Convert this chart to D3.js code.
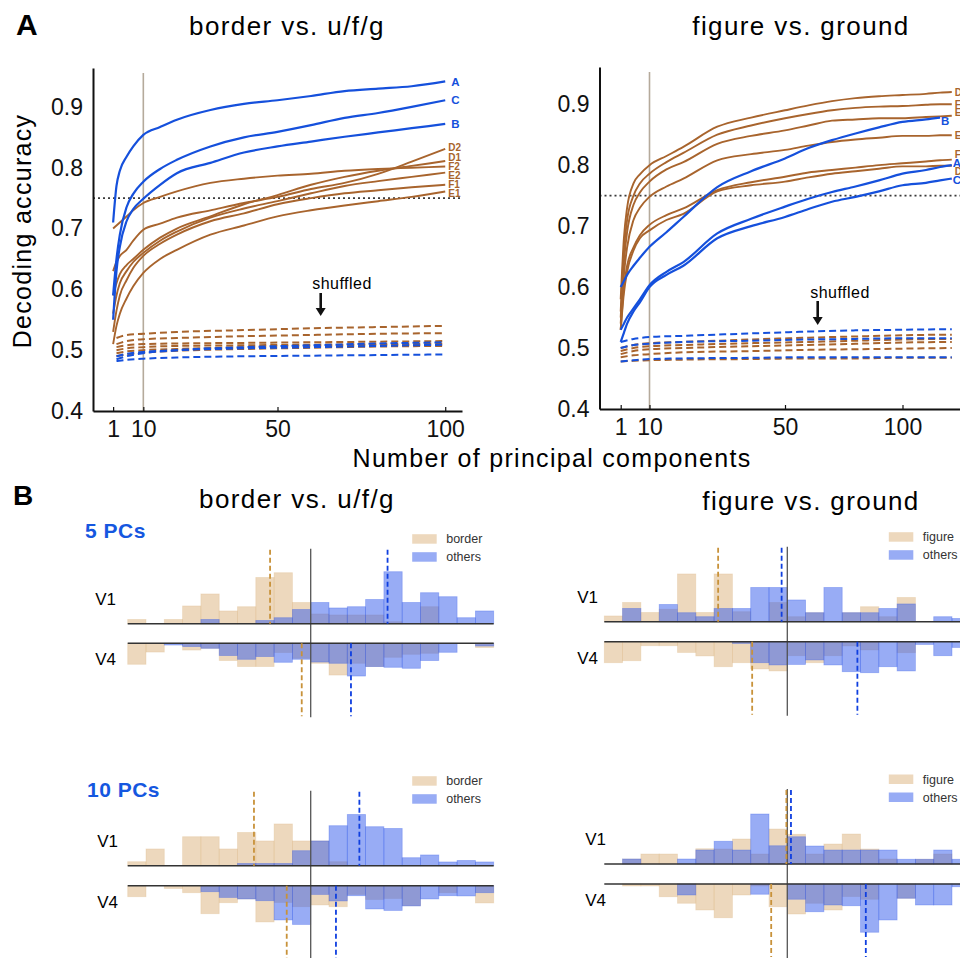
<!DOCTYPE html>
<html>
<head>
<meta charset="utf-8">
<script src="https://cdn.jsdelivr.net/npm/d3@7"></script>
<style>
  body { margin: 0; background: #fff; }
  svg { display: block; }
</style>
</head>
<body>
<script>
// ================= Panel A data: decoding accuracy vs. number of PCs =================
// border vs. u/f/g
const pcsBorder = [1, 2, 3, 5, 7, 10, 15, 20, 30, 40, 50, 60, 70, 80, 90, 100];
const borderNames = ["D2", "D1", "F2", "E2", "F1", "E1", "A", "C", "B"];
const borderKinds = ["brown", "brown", "brown", "brown", "brown", "brown", "blue", "blue", "blue"];
const borderAcc = [
  [0.63, 0.645, 0.655, 0.665, 0.68, 0.698, 0.708, 0.718, 0.73, 0.742, 0.752, 0.765, 0.775, 0.79, 0.81, 0.831],
  [0.59, 0.61, 0.625, 0.64, 0.65, 0.665, 0.685, 0.70, 0.72, 0.74, 0.755, 0.772, 0.785, 0.795, 0.803, 0.811],
  [0.70, 0.705, 0.71, 0.72, 0.73, 0.742, 0.752, 0.761, 0.775, 0.782, 0.787, 0.79, 0.795, 0.798, 0.80, 0.802],
  [0.56, 0.59, 0.61, 0.63, 0.645, 0.66, 0.68, 0.695, 0.718, 0.733, 0.745, 0.758, 0.77, 0.778, 0.785, 0.792],
  [0.53, 0.565, 0.59, 0.615, 0.635, 0.655, 0.675, 0.69, 0.712, 0.725, 0.74, 0.75, 0.758, 0.763, 0.768, 0.772],
  [0.51, 0.54, 0.56, 0.585, 0.605, 0.627, 0.65, 0.665, 0.69, 0.705, 0.72, 0.73, 0.738, 0.745, 0.752, 0.761],
  [0.71, 0.77, 0.795, 0.818, 0.835, 0.854, 0.867, 0.879, 0.895, 0.905, 0.911, 0.918, 0.926, 0.93, 0.934, 0.942],
  [0.59, 0.65, 0.69, 0.735, 0.757, 0.777, 0.798, 0.813, 0.835, 0.85, 0.859, 0.87, 0.882, 0.89, 0.90, 0.911],
  [0.55, 0.63, 0.67, 0.712, 0.732, 0.749, 0.772, 0.791, 0.808, 0.825, 0.835, 0.843, 0.851, 0.858, 0.865, 0.872]
];
const pcsShufBorder = [2, 5, 10, 20, 40, 60, 80, 100];
const shufBorderBrown = [
  [0.52, 0.525, 0.527, 0.53, 0.533, 0.536, 0.538, 0.54],
  [0.51, 0.515, 0.518, 0.52, 0.523, 0.525, 0.527, 0.528],
  [0.505, 0.508, 0.51, 0.511, 0.512, 0.513, 0.514, 0.515],
  [0.50, 0.503, 0.505, 0.507, 0.508, 0.509, 0.51, 0.511],
  [0.495, 0.498, 0.50, 0.502, 0.505, 0.507, 0.508, 0.509],
  [0.49, 0.493, 0.496, 0.499, 0.502, 0.504, 0.506, 0.507]
];
const shufBorderBlue = [
  [0.485, 0.49, 0.495, 0.50, 0.505, 0.508, 0.511, 0.513],
  [0.482, 0.484, 0.486, 0.488, 0.49, 0.491, 0.492, 0.493],
  [0.49, 0.494, 0.497, 0.50, 0.503, 0.505, 0.507, 0.509]
];

// figure vs. ground
const pcsFigure = [1, 2, 3, 5, 7, 10, 15, 20, 30, 40, 50, 60, 70, 80, 90, 100, 110, 116, 121];
const figureNames = ["D1", "F1", "E1", "E2", "F2", "D2", "B", "A", "C"];
const figureKinds = ["brown", "brown", "brown", "brown", "brown", "brown", "blue", "blue", "blue"];
const figureAcc = [
  [0.58, 0.68, 0.73, 0.77, 0.785, 0.80, 0.815, 0.83, 0.863, 0.878, 0.89, 0.898, 0.905, 0.91, 0.913, 0.915, 0.917, 0.919, 0.92],
  [0.56, 0.66, 0.71, 0.75, 0.77, 0.786, 0.805, 0.82, 0.85, 0.865, 0.877, 0.884, 0.89, 0.894, 0.896, 0.897, 0.899, 0.90, 0.90],
  [0.55, 0.64, 0.69, 0.735, 0.755, 0.773, 0.793, 0.805, 0.835, 0.848, 0.857, 0.865, 0.873, 0.875, 0.877, 0.877, 0.879, 0.88, 0.881],
  [0.54, 0.62, 0.665, 0.71, 0.73, 0.748, 0.765, 0.778, 0.808, 0.818, 0.825, 0.832, 0.838, 0.842, 0.845, 0.848, 0.848, 0.849, 0.849],
  [0.53, 0.60, 0.635, 0.665, 0.685, 0.702, 0.718, 0.729, 0.759, 0.772, 0.781, 0.788, 0.792, 0.796, 0.80, 0.803, 0.806, 0.808, 0.809],
  [0.53, 0.59, 0.625, 0.66, 0.68, 0.693, 0.71, 0.72, 0.757, 0.767, 0.773, 0.78, 0.786, 0.79, 0.794, 0.798, 0.798, 0.799, 0.799],
  [0.60, 0.61, 0.62, 0.635, 0.648, 0.666, 0.69, 0.715, 0.764, 0.79, 0.811, 0.828, 0.841, 0.852, 0.862, 0.871, 0.875, 0.878, null],
  [0.53, 0.54, 0.55, 0.565, 0.58, 0.603, 0.625, 0.641, 0.688, 0.712, 0.732, 0.745, 0.756, 0.765, 0.775, 0.786, 0.792, 0.797, 0.80],
  [0.51, 0.525, 0.54, 0.56, 0.575, 0.60, 0.62, 0.635, 0.68, 0.70, 0.715, 0.728, 0.74, 0.748, 0.757, 0.767, 0.771, 0.775, 0.778]
];
const pcsShufFigure = [1, 5, 10, 20, 40, 60, 80, 100, 121];
const shufFigureBrown = [
  [0.50, 0.505, 0.508, 0.51, 0.514, 0.517, 0.519, 0.521, 0.522],
  [0.495, 0.50, 0.503, 0.505, 0.508, 0.51, 0.512, 0.514, 0.515],
  [0.49, 0.495, 0.498, 0.50, 0.503, 0.505, 0.507, 0.509, 0.51],
  [0.485, 0.488, 0.49, 0.493, 0.495, 0.497, 0.498, 0.499, 0.50],
  [0.478, 0.479, 0.48, 0.481, 0.482, 0.483, 0.483, 0.484, 0.484]
];
const shufFigureBlue = [
  [0.51, 0.515, 0.518, 0.52, 0.524, 0.527, 0.529, 0.53, 0.531],
  [0.50, 0.505, 0.507, 0.51, 0.512, 0.514, 0.515, 0.516, 0.516],
  [0.478, 0.48, 0.482, 0.483, 0.484, 0.485, 0.485, 0.485, 0.485]
];

const accTicks = [0.4, 0.5, 0.6, 0.7, 0.8, 0.9];
const pcTicks = [1, 10, 50, 100];
const chanceLevel = 0.75;
const markedPC = 10;

// ================= Panel B data: distributions of decoder outputs =================
const binStarts = [-10, -9, -8, -7, -6, -5, -4, -3, -2, -1, 0, 1, 2, 3, 4, 5, 6, 7, 8, 9];

// 5 PCs, border vs. u/f/g
const v1Border5 = [0.017, 0, 0.017, 0.071, 0.119, 0.051, 0.068, 0.185, 0.204, 0.085, 0.039, 0.035, 0.035, 0.035, 0.008, 0, 0.068, 0, 0, 0];
const v1Others5 = [0, 0, 0, 0, 0.017, 0, 0, 0.013, 0.024, 0.057, 0.085, 0.063, 0.068, 0.097, 0.208, 0.085, 0.124, 0.108, 0.024, 0.051];
const v4Border5 = [0.084, 0.035, 0, 0.027, 0.02, 0.069, 0.093, 0.093, 0.037, 0.06, 0.08, 0.127, 0.08, 0.093, 0.056, 0.044, 0.04, 0, 0, 0.017];
const v4Others5 = [0, 0, 0.007, 0.013, 0.02, 0.049, 0.064, 0.053, 0.076, 0.064, 0.075, 0.08, 0.131, 0.093, 0.096, 0.10, 0.069, 0.036, 0, 0.011];
const means5Border = { v1: [-2.22, 4.2], v4: [-0.49, 2.2] };

// 5 PCs, figure vs. ground
const v1Figure5 = [0.023, 0.077, 0.037, 0.05, 0.191, 0.037, 0.191, 0.04, 0, 0.077, 0.02, 0.036, 0, 0.036, 0.06, 0.02, 0.097, 0, 0, 0];
const v1OthersFG5 = [0, 0.053, 0, 0.069, 0.036, 0.02, 0.053, 0.053, 0.137, 0.137, 0.087, 0.036, 0.137, 0.036, 0.036, 0.053, 0.071, 0, 0.02, 0.013];
const v4Figure5 = [0.084, 0.076, 0.016, 0.016, 0.043, 0.057, 0.10, 0.084, 0.109, 0.117, 0.056, 0.084, 0.056, 0.017, 0.033, 0, 0.044, 0, 0, 0];
const v4OthersFG5 = [0, 0, 0, 0, 0, 0, 0, 0.007, 0.084, 0.093, 0.091, 0.073, 0.093, 0.12, 0.124, 0.10, 0.117, 0.011, 0.056, 0.023];
const means5Figure = { v1: [-3.78, -0.31], v4: [-1.92, 3.83] };

// 10 PCs, border vs. u/f/g
const v1Border10 = [0.016, 0.067, 0, 0.116, 0.116, 0.067, 0.133, 0.099, 0.167, 0.099, 0.099, 0.016, 0, 0, 0, 0, 0, 0, 0, 0];
const v1Others10 = [0, 0, 0, 0, 0, 0, 0.009, 0.009, 0.009, 0.06, 0.099, 0.16, 0.205, 0.156, 0.149, 0.032, 0.043, 0.015, 0.021, 0.015];
const v4Border10 = [0.044, 0, 0.011, 0.028, 0.112, 0.068, 0.053, 0.145, 0.067, 0.084, 0.077, 0.084, 0.035, 0.055, 0.051, 0.08, 0, 0.028, 0, 0.069];
const v4Others10 = [0, 0, 0, 0, 0.024, 0.047, 0.053, 0.06, 0.137, 0.155, 0.035, 0.061, 0.04, 0.093, 0.099, 0.081, 0.053, 0.04, 0.041, 0.028];
const means10Border = { v1: [-3.1, 2.66], v4: [-1.31, 1.38] };

// 10 PCs, figure vs. ground
const v1Figure10 = [0, 0.02, 0.04, 0.04, 0, 0.061, 0.06, 0.10, 0.04, 0.14, 0.119, 0.04, 0.08, 0.12, 0.06, 0.02, 0, 0.019, 0.04, 0];
const v1OthersFG10 = [0, 0.02, 0, 0, 0.02, 0.056, 0.091, 0.056, 0.20, 0.073, 0.109, 0.072, 0.056, 0.056, 0.056, 0.056, 0.019, 0.019, 0.056, 0.019];
const v4Figure10 = [0, 0.008, 0.008, 0.051, 0.077, 0.104, 0.135, 0.044, 0.008, 0.091, 0.12, 0.077, 0.104, 0.05, 0.061, 0, 0.057, 0, 0, 0];
const v4OthersFG10 = [0, 0, 0, 0, 0.044, 0, 0, 0, 0.041, 0, 0.061, 0.111, 0.084, 0.087, 0.193, 0.144, 0.057, 0.084, 0.084, 0.011];
const means10Figure = { v1: [-0.05, 0.2], v4: [-0.88, 4.29] };

// ================= Drawing =================
const FONT = "'Liberation Sans', Arial, Helvetica, sans-serif";
const BLUE = "#1550dc";
const BROWN = "#a8642d";
const kindColor = { blue: BLUE, brown: BROWN };

const svg = d3.select("body").append("svg")
  .attr("width", 960).attr("height", 958)
  .style("font-family", FONT);

// Panel letters
svg.append("text").attr("x", 16).attr("y", 35).attr("font-size", 30).attr("font-weight", "bold").text("A");
svg.append("text").attr("x", 13).attr("y", 505).attr("font-size", 28).attr("font-weight", "bold").text("B");

// ---------- Panel A ----------
const accPanels = [
  {
    title: "border vs. u/f/g", titleX: 287,
    x: d3.scaleLinear().domain([-5, 105]).range([93, 462]),
    y: d3.scaleLinear().domain([0.4, 0.964]).range([411, 68]),
    pcs: pcsBorder, names: borderNames, kinds: borderKinds, acc: borderAcc,
    shufPcs: pcsShufBorder, shufBrown: shufBorderBrown, shufBlue: shufBorderBlue,
    dotEnd: 460, shuffledX: 342, shuffledY: 289, arrowX: 320.7, arrowTop: 293, arrowTip: 316,
    labelGap: 9.2, blueLabelDx: 6, brownLabelDx: 3
  },
  {
    title: "figure vs. ground", titleX: 801,
    x: d3.scaleLinear().domain([-5.6, 1, 10, 50, 100, 124.5]).range([599.5, 620.7, 649.5, 785, 902.5, 960]),
    y: d3.scaleLinear().domain([0.4, 0.961]).range([409, 67]),
    pcs: pcsFigure, names: figureNames, kinds: figureKinds, acc: figureAcc,
    shufPcs: pcsShufFigure, shufBrown: shufFigureBrown, shufBlue: shufFigureBlue,
    dotEnd: 960, shuffledX: 840, shuffledY: 297.5, arrowX: 817.7, arrowTop: 301, arrowTip: 325,
    labelGap: 8.5, blueLabelDx: 1, brownLabelDx: 3
  }
];

accPanels.forEach(p => {
  const g = svg.append("g");
  const [x0] = p.x.range();
  const yBottom = p.y.range()[0];

  // title
  svg.append("text").attr("x", p.titleX).attr("y", 35).attr("text-anchor", "middle")
    .attr("font-size", 26).attr("letter-spacing", "1.4px").text(p.title);

  // marker at PC 10
  g.append("line")
    .attr("x1", p.x(markedPC)).attr("x2", p.x(markedPC))
    .attr("y1", p.y.range()[1] + 5).attr("y2", yBottom)
    .attr("stroke", "#b5aa9b").attr("stroke-width", 1.6);

  // 0.75 reference
  g.append("line")
    .attr("x1", x0).attr("x2", p.dotEnd)
    .attr("y1", p.y(chanceLevel)).attr("y2", p.y(chanceLevel))
    .attr("stroke", "#3a3a3a").attr("stroke-width", 1.8).attr("stroke-dasharray", "2,3");

  // shuffled controls
  const shufLine = pcs => d3.line()
    .x((d, i) => p.x(pcs[i])).y(d => p.y(d)).curve(d3.curveMonotoneX);
  const drawShuf = (rows, color) => rows.forEach(r => {
    g.append("path").attr("d", shufLine(p.shufPcs)(r))
      .attr("fill", "none").attr("stroke", color).attr("stroke-width", 2)
      .attr("stroke-dasharray", "7,4");
  });
  drawShuf(p.shufBrown, BROWN);
  drawShuf(p.shufBlue, BLUE);

  // accuracy curves: brown first, blue on top
  const line = d3.line()
    .defined(d => d[1] != null)
    .x(d => p.x(d[0])).y(d => p.y(d[1]))
    .curve(d3.curveMonotoneX);
  const order = d3.range(p.acc.length).sort((a, b) => (p.kinds[a] === "blue") - (p.kinds[b] === "blue"));
  order.forEach(i => {
    const pts = p.pcs.map((pc, k) => [pc, p.acc[i][k]]);
    g.append("path").attr("d", line(pts))
      .attr("fill", "none").attr("stroke", kindColor[p.kinds[i]])
      .attr("stroke-width", p.kinds[i] === "blue" ? 2.2 : 1.9);
  });

  // end labels, spread apart so they do not collide
  const labels = p.names.map((name, i) => {
    let k = p.acc[i].length - 1;
    while (p.acc[i][k] == null) k--;
    return { name, kind: p.kinds[i], ex: p.x(p.pcs[k]), y: p.y(p.acc[i][k]) };
  }).sort((a, b) => a.y - b.y);
  for (let it = 0; it < 80; it++) {
    for (let i = 1; i < labels.length; i++) {
      const d = labels[i].y - labels[i - 1].y;
      if (d < p.labelGap) {
        const s = (p.labelGap - d) / 2;
        labels[i - 1].y -= s; labels[i].y += s;
      }
    }
  }
  labels.forEach(l => {
    g.append("text")
      .attr("x", l.ex + (l.kind === "blue" ? p.blueLabelDx : p.brownLabelDx))
      .attr("y", l.y).attr("dy", "0.36em")
      .attr("font-size", l.kind === "blue" ? 11.5 : 10)
      .attr("font-weight", "bold")
      .attr("fill", kindColor[l.kind]).text(l.name);
  });

  // axes
  const ax = g.append("g").attr("transform", `translate(0,${yBottom})`)
    .call(d3.axisBottom(p.x).tickValues(pcTicks).tickFormat(d3.format("d"))
      .tickSize(-4).tickSizeOuter(0).tickPadding(10));
  const ay = g.append("g").attr("transform", `translate(${x0},0)`)
    .call(d3.axisLeft(p.y).tickValues(accTicks).tickFormat(d3.format(".1f"))
      .tickSize(0).tickSizeOuter(0).tickPadding(10));
  [ax, ay].forEach(a => {
    a.select(".domain").attr("stroke", "#111").attr("stroke-width", 2);
    a.selectAll(".tick line").attr("stroke", "#111").attr("stroke-width", 1.2);
    a.selectAll("text").attr("font-size", 23).attr("font-family", FONT).attr("fill", "#111");
  });

  // "shuffled" marker
  g.append("text").attr("x", p.shuffledX).attr("y", p.shuffledY).attr("text-anchor", "middle")
    .attr("font-size", 16).attr("letter-spacing", "0.5px").text("shuffled");
  g.append("line").attr("x1", p.arrowX).attr("x2", p.arrowX)
    .attr("y1", p.arrowTop).attr("y2", p.arrowTip - 6)
    .attr("stroke", "#111").attr("stroke-width", 2.6);
  g.append("path")
    .attr("d", d3.line()([[p.arrowX - 5, p.arrowTip - 8], [p.arrowX + 5, p.arrowTip - 8], [p.arrowX, p.arrowTip]]) + "Z")
    .attr("fill", "#111");
});

// shared axis titles
svg.append("text")
  .attr("transform", "translate(31,231) rotate(-90)")
  .attr("text-anchor", "middle").attr("font-size", 25).attr("letter-spacing", "1.3px")
  .text("Decoding accuracy");
svg.append("text").attr("x", 552).attr("y", 467).attr("text-anchor", "middle")
  .attr("font-size", 25).attr("letter-spacing", "1.3px")
  .text("Number of principal components");

// ---------- Panel B ----------
svg.append("text").attr("x", 297).attr("y", 508).attr("text-anchor", "middle")
  .attr("font-size", 26).attr("letter-spacing", "1.4px").text("border vs. u/f/g");
svg.append("text").attr("x", 811).attr("y", 510).attr("text-anchor", "middle")
  .attr("font-size", 26).attr("letter-spacing", "1.4px").text("figure vs. ground");

const TAN_FILL = "rgb(222,184,135)";
const BLUE_FILL = "rgb(50,90,235)";
const MEAN_TAN = "#c8923a";
const MEAN_BLUE = "#0f3fe0";
const hScale = d3.scaleLinear().domain([0, 0.1]).range([0, 25]);

const histGroups = [
  { pcs: "5 PCs", pcsX: 85, pcsY: 538, x0: 127.7, lineEnd: 493.7, v1Base: 623.7, v4Base: 643.3, labelEnd: 116,
    classLabel: "border", v1: [v1Border5, v1Others5], v4: [v4Border5, v4Others5], means: means5Border },
  { pcs: null, x0: 604.3, lineEnd: 960, v1Base: 621.7, v4Base: 641.7, labelEnd: 598,
    classLabel: "figure", v1: [v1Figure5, v1OthersFG5], v4: [v4Figure5, v4OthersFG5], means: means5Figure },
  { pcs: "10 PCs", pcsX: 87, pcsY: 797, x0: 127.7, lineEnd: 493.7, v1Base: 865.7, v4Base: 885.7, labelEnd: 118,
    classLabel: "border", v1: [v1Border10, v1Others10], v4: [v4Border10, v4Others10], means: means10Border },
  { pcs: null, x0: 604.3, lineEnd: 960, v1Base: 864, v4Base: 884, labelEnd: 606,
    classLabel: "figure", v1: [v1Figure10, v1OthersFG10], v4: [v4Figure10, v4OthersFG10], means: means10Figure }
];

histGroups.forEach(hg => {
  const g = svg.append("g");
  const x = d3.scaleLinear().domain([-10, 10]).range([hg.x0, hg.x0 + 366]);
  const bw = x(1) - x(0);

  if (hg.pcs) {
    g.append("text").attr("x", hg.pcsX).attr("y", hg.pcsY)
      .attr("font-size", 21).attr("font-weight", "bold").attr("letter-spacing", "0.5px")
      .attr("fill", "#1557e0").text(hg.pcs);
  }

  // bars: upward for V1, downward for V4
  const drawBars = (vals, fill, base, dir) => {
    g.append("g").selectAll("rect").data(binStarts.map((b, i) => [b, vals[i]]).filter(d => d[1] > 0))
      .join("rect")
      .attr("x", d => x(d[0])).attr("width", bw)
      .attr("y", d => dir < 0 ? base - hScale(d[1]) : base)
      .attr("height", d => hScale(d[1]))
      .attr("fill", fill).attr("fill-opacity", fill === TAN_FILL ? 0.55 : 0.5)
      .attr("stroke", fill).attr("stroke-opacity", 0.35).attr("stroke-width", 0.8);
  };
  drawBars(hg.v1[0], TAN_FILL, hg.v1Base, -1);
  drawBars(hg.v1[1], BLUE_FILL, hg.v1Base, -1);
  drawBars(hg.v4[0], TAN_FILL, hg.v4Base, 1);
  drawBars(hg.v4[1], BLUE_FILL, hg.v4Base, 1);

  // decision boundary
  g.append("line").attr("x1", x(0)).attr("x2", x(0))
    .attr("y1", hg.v1Base - 75).attr("y2", hg.v4Base + 74)
    .attr("stroke", "#555").attr("stroke-width", 1.3);

  // baselines
  [hg.v1Base, hg.v4Base].forEach(yb => {
    g.append("line").attr("x1", hg.x0).attr("x2", hg.lineEnd).attr("y1", yb).attr("y2", yb)
      .attr("stroke", "#333").attr("stroke-width", 1.6);
  });

  // class means
  const meanLine = (v, color, y1, y2) => g.append("line")
    .attr("x1", x(v)).attr("x2", x(v)).attr("y1", y1).attr("y2", y2)
    .attr("stroke", color).attr("stroke-width", 1.8).attr("stroke-dasharray", "5,3");
  meanLine(hg.means.v1[0], MEAN_TAN, hg.v1Base - 74, hg.v1Base);
  meanLine(hg.means.v1[1], MEAN_BLUE, hg.v1Base - 74, hg.v1Base);
  meanLine(hg.means.v4[0], MEAN_TAN, hg.v4Base, hg.v4Base + 73);
  meanLine(hg.means.v4[1], MEAN_BLUE, hg.v4Base, hg.v4Base + 73);

  // area labels
  g.append("text").attr("x", hg.labelEnd).attr("y", hg.v1Base - 19).attr("text-anchor", "end")
    .attr("font-size", 17).text("V1");
  g.append("text").attr("x", hg.labelEnd).attr("y", hg.v4Base + 22).attr("text-anchor", "end")
    .attr("font-size", 17).text("V4");

  // legend
  const lx = hg.x0 + 284.5, ly = hg.v1Base - 89.5;
  [[hg.classLabel, TAN_FILL, 0.55], ["others", BLUE_FILL, 0.5]].forEach((item, i) => {
    g.append("rect").attr("x", lx).attr("y", ly + i * 18).attr("width", 24.5).attr("height", 9.5)
      .attr("fill", item[1]).attr("fill-opacity", item[2]);
    g.append("text").attr("x", lx + 34).attr("y", ly + i * 18 + 4.8).attr("dy", "0.35em")
      .attr("font-size", 12.5).attr("fill", "#333").text(item[0]);
  });
});
</script>
</body>
</html>
